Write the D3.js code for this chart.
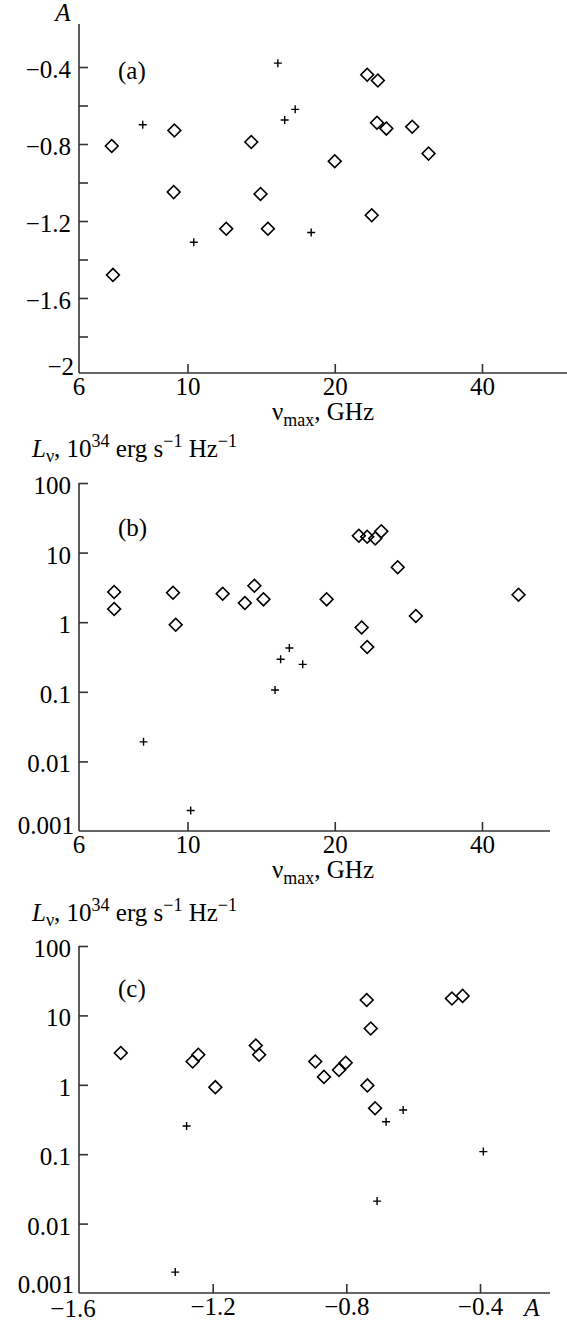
<!DOCTYPE html>
<html><head><meta charset="utf-8">
<script src="https://cdn.jsdelivr.net/npm/d3@7"></script>
<style>
body{margin:0;background:#fff;}
svg{display:block;}
text{font-family:"Liberation Serif","Times New Roman",serif;fill:#000;}
.tick text{font-size:25px;}
.tick line{stroke:#333;stroke-width:1.6;}
.axl{stroke:#333;stroke-width:1.6;fill:none;}
</style></head><body>
<script>
// Panel (a): A vs nu_max
const aDiamNu = [7.0, 7.04, 9.4, 9.37, 12.0, 13.5, 14.1, 14.6, 20.0, 23.3, 24.5, 24.4, 25.5, 23.8, 28.8, 31.1];
const aDiamA  = [-0.81, -1.48, -0.73, -1.05, -1.24, -0.79, -1.06, -1.24, -0.89, -0.44, -0.47, -0.69, -0.72, -1.17, -0.71, -0.85];
const aCrossNu = [8.1, 10.3, 15.3, 15.8, 16.6, 17.9];
const aCrossA  = [-0.70, -1.31, -0.38, -0.675, -0.62, -1.26];
// Panel (b): L vs nu_max
const bDiamNu = [7.08, 7.08, 9.34, 9.46, 11.8, 13.1, 13.7, 14.3, 19.25, 22.4, 23.3, 24.2, 24.9, 26.9, 47.5, 29.3, 22.7, 23.3];
const bDiamL  = [2.71, 1.55, 2.65, 0.92, 2.57, 1.89, 3.34, 2.13, 2.13, 17.5, 16.9, 16.0, 20.2, 6.17, 2.48, 1.23, 0.84, 0.44];
const bCrossNu = [8.13, 10.15, 15.1, 15.5, 16.15, 17.2];
const bCrossL  = [0.0191, 0.00197, 0.106, 0.293, 0.425, 0.248];
// Panel (c): L vs A
const cDiamA = [-1.475, -1.26, -1.243, -1.192, -1.071, -1.061, -0.739, -0.727, -0.484, -0.452, -0.893, -0.867, -0.822, -0.802, -0.737, -0.714];
const cDiamL = [2.88, 2.17, 2.71, 0.925, 3.68, 2.71, 16.7, 6.47, 17.5, 19.1, 2.17, 1.30, 1.64, 2.07, 0.98, 0.46];
const cCrossA = [-1.312, -1.278, -0.708, -0.681, -0.630, -0.390];
const cCrossL = [0.0020, 0.255, 0.0211, 0.294, 0.433, 0.109];
// ticks
const nuTicks = [6, 10, 20, 40];
const aTicks = [-0.4, -0.6, -0.8, -1.0, -1.2, -1.4, -1.6, -1.8];
const aLabeled = [-0.4, -0.8, -1.2, -1.6];
const lTicks = [0.01, 0.1, 1, 10, 100];
const lLabels = ["0.01", "0.1", "1", "10", "100"];
const cxTicks = [-1.6, -1.2, -0.8, -0.4];

const FS = "25px", SS = "18px";
const svg = d3.select("body").append("svg").attr("width", 567).attr("height", 1323);

const x0 = 79;
const xNu = d3.scaleLog().domain([6, 40]).range([x0, 482]);
const yA = d3.scaleLinear().domain([-2, -0.4]).range([375, 67]);
const yLb = d3.scaleLog().domain([0.001, 100]).range([831, 483]);
const yLc = d3.scaleLog().domain([0.001, 100]).range([1293, 946]);
const xAc = d3.scaleLinear().domain([-1.6, -0.4]).range([x0, 480]);

const minus = s => s.replace("-", "\u2212");
const diamond = d3.symbol().type(d3.symbolSquare).size(82);

function drawPoints(g, xs, ys, xsc, ysc, kind) {
  const data = xs.map((v, i) => [v, ys[i]]);
  if (kind === "d") {
    g.selectAll(null).data(data).enter().append("path")
      .attr("d", diamond)
      .attr("transform", d => `translate(${xsc(d[0])},${ysc(d[1])}) rotate(45)`)
      .attr("fill", "none").attr("stroke", "#000").attr("stroke-width", 1.6);
  } else {
    g.selectAll(null).data(data).enter().append("path")
      .attr("d", "M-4,0H4M0,-4V4")
      .attr("transform", d => `translate(${xsc(d[0])},${ysc(d[1])})`)
      .attr("fill", "none").attr("stroke", "#000").attr("stroke-width", 1.4);
  }
}

function yAxis(g, sc, vals, fmt) {
  const ax = d3.axisLeft(sc).tickValues(vals).tickSize(-9).tickPadding(8).tickFormat(fmt);
  g.call(ax);
  g.select(".domain").remove();
  g.selectAll(".tick text").attr("dy", "0.42em");
}
function xAxis(g, sc, vals, fmt) {
  const ax = d3.axisBottom(sc).tickValues(vals).tickSize(-9).tickPadding(4).tickFormat(fmt);
  g.call(ax);
  g.select(".domain").remove();
  g.selectAll(".tick text").attr("dy", "0.71em");
}
function txt(g, x, y, s, anchor, italic) {
  return g.append("text").attr("x", x).attr("y", y).attr("text-anchor", anchor || "start")
    .style("font-size", FS).style("font-style", italic ? "italic" : "normal").text(s);
}
function nuTitle(g, y) {
  const t = g.append("text").attr("x", 323).attr("y", y).attr("text-anchor", "middle").style("font-size", FS);
  t.append("tspan").text("\u03bd");
  t.append("tspan").attr("dy", 6).style("font-size", SS).text("max");
  t.append("tspan").attr("dy", -6).text(", GHz");
}
function lTitle(g, y) {
  const t = g.append("text").attr("x", 32).attr("y", y).style("font-size", FS);
  t.append("tspan").style("font-style", "italic").text("L");
  t.append("tspan").attr("dy", 5).style("font-size", SS).text("\u03bd");
  t.append("tspan").attr("dy", -5).text(", 10");
  t.append("tspan").attr("dy", -10).style("font-size", SS).text("34");
  t.append("tspan").attr("dy", 10).text(" erg s");
  t.append("tspan").attr("dy", -10).style("font-size", SS).text("\u22121");
  t.append("tspan").attr("dy", 10).text(" Hz");
  t.append("tspan").attr("dy", -10).style("font-size", SS).text("\u22121");
}

// ---------- Panel (a)
{
  const g = svg.append("g");
  const yb = 373;
  yAxis(g.append("g").attr("transform", `translate(${x0},0)`), yA, aTicks,
        d => aLabeled.includes(d) ? minus(d3.format(".1f")(d)) : "");
  xAxis(g.append("g").attr("transform", `translate(0,${yb})`), xNu, nuTicks.slice(1), d3.format("d"));
  g.append("line").attr("class", "axl").attr("x1", x0).attr("x2", x0).attr("y1", 24).attr("y2", yb);
  g.append("line").attr("class", "axl").attr("x1", x0).attr("x2", 567).attr("y1", yb).attr("y2", yb);
  txt(g, x0 - 5, yb + 2, "\u22122", "end");
  txt(g, xNu(6), yb + 22, "6", "middle");
  txt(g, 63, 21, "A", "middle", true);
  txt(g, 118, 79, "(a)");
  nuTitle(g, yb + 47);
  drawPoints(g, aDiamNu, aDiamA, xNu, yA, "d");
  drawPoints(g, aCrossNu, aCrossA, xNu, yA, "c");
}

// ---------- Panel (b)
{
  const g = svg.append("g");
  const yb = yLb(0.001);
  yAxis(g.append("g").attr("transform", `translate(${x0},0)`), yLb, lTicks, (d, i) => lLabels[i]);
  xAxis(g.append("g").attr("transform", `translate(0,${yb})`), xNu, nuTicks.slice(1), d3.format("d"));
  g.append("line").attr("class", "axl").attr("x1", x0).attr("x2", x0).attr("y1", yLb(100)).attr("y2", yb);
  g.append("line").attr("class", "axl").attr("x1", x0).attr("x2", 550).attr("y1", yb).attr("y2", yb);
  txt(g, x0 - 5, yb + 3, "0.001", "end");
  txt(g, xNu(6), yb + 22, "6", "middle");
  lTitle(g, 457);
  txt(g, 118, 536, "(b)");
  nuTitle(g, yb + 47);
  drawPoints(g, bDiamNu, bDiamL, xNu, yLb, "d");
  drawPoints(g, bCrossNu, bCrossL, xNu, yLb, "c");
}

// ---------- Panel (c)
{
  const g = svg.append("g");
  const yb = yLc(0.001);
  yAxis(g.append("g").attr("transform", `translate(${x0},0)`), yLc, lTicks, (d, i) => lLabels[i]);
  xAxis(g.append("g").attr("transform", `translate(0,${yb})`), xAc, cxTicks.slice(1), d => minus(d3.format(".1f")(d)));
  g.append("line").attr("class", "axl").attr("x1", x0).attr("x2", x0).attr("y1", yLc(100)).attr("y2", yb);
  g.append("line").attr("class", "axl").attr("x1", x0).attr("x2", 550).attr("y1", yb).attr("y2", yb);
  txt(g, x0 - 5, yb, "0.001", "end");
  txt(g, x0 - 6, yb + 24, "\u22121.6", "middle");
  txt(g, 532, yb + 23, "A", "middle", true);
  lTitle(g, 921);
  txt(g, 118, 997, "(c)");
  drawPoints(g, cDiamA, cDiamL, xAc, yLc, "d");
  drawPoints(g, cCrossA, cCrossL, xAc, yLc, "c");
}
</script>
</body></html>
